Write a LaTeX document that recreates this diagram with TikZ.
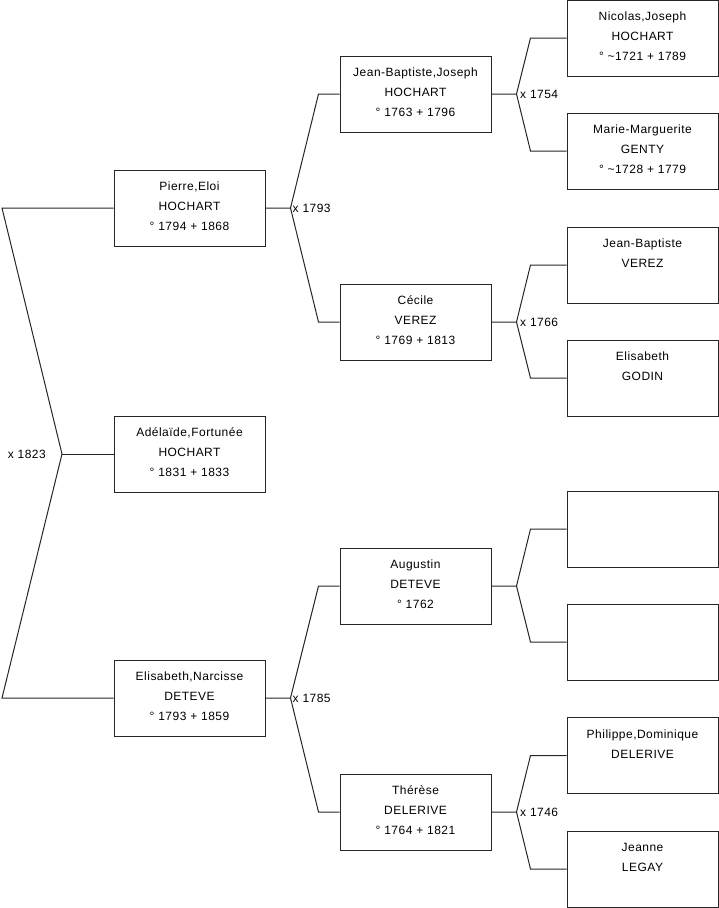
\documentclass[tikz,border=0pt]{standalone}
\usepackage{fontspec}
\setmainfont{Liberation Sans}[LetterSpace=4]
\usetikzlibrary{calc}
\newcommand{\boxtxt}[1]{\parbox[t][76pt][t]{151pt}{\centering\fontsize{12}{20}\selectfont\rule{0pt}{20.5pt}#1}}
\begin{document}
\begin{tikzpicture}[x=1pt,y=-1pt,
  person/.style={draw=black!85, line width=1pt, inner sep=0pt, minimum width=151pt, minimum height=76pt},
  link/.style={draw=black!85, line width=1pt},
  marr/.style={font=\fontsize{12}{14}\selectfont, inner sep=0pt, anchor=west}]
\useasboundingbox (0,0) rectangle (719,908);
% generation 1
\node[person] (pierre) at (189.5,208) {\boxtxt{Pierre,Eloi\\HOCHART\\° 1794 + 1868}};
\node[person] (adel) at (189.5,454) {\boxtxt{Adélaïde,Fortunée\\HOCHART\\° 1831 + 1833}};
\node[person] (elisn) at (189.5,698) {\boxtxt{Elisabeth,Narcisse\\DETEVE\\° 1793 + 1859}};
% generation 2
\node[person] (jbj) at (415.5,94) {\boxtxt{Jean-Baptiste,Joseph\\HOCHART\\° 1763 + 1796}};
\node[person] (cecile) at (415.5,322) {\boxtxt{Cécile\\VEREZ\\° 1769 + 1813}};
\node[person] (augustin) at (415.5,586) {\boxtxt{Augustin\\DETEVE\\° 1762}};
\node[person] (therese) at (415.5,812) {\boxtxt{Thérèse\\DELERIVE\\° 1764 + 1821}};
% generation 3
\node[person] (nicolas) at (642.5,38) {\boxtxt{Nicolas,Joseph\\HOCHART\\° \textasciitilde 1721 + 1789}};
\node[person] (marie) at (642.5,151) {\boxtxt{Marie-Marguerite\\GENTY\\° \textasciitilde 1728 + 1779}};
\node[person] (jbv) at (642.5,265) {\boxtxt{Jean-Baptiste\\VEREZ}};
\node[person] (godin) at (642.5,378) {\boxtxt{Elisabeth\\GODIN}};
\node[person] (e1) at (642.5,529) {\boxtxt{}};
\node[person] (e2) at (642.5,642) {\boxtxt{}};
\node[person] (phil) at (642.5,755.5) {\boxtxt{Philippe,Dominique\\DELERIVE}};
\node[person] (jeanne) at (642.5,869) {\boxtxt{Jeanne\\LEGAY}};
% left family
\coordinate (l1) at (2,208);
\coordinate (lm) at (62,454);
\coordinate (l2) at (2,698);
\draw[link] (pierre.west) -- (l1) -- (lm) -- (l2) -- (elisn.west);
\draw[link] (lm) -- (adel.west);
\node[marr, anchor=east] (m1823) at ($(lm)+(-16,0)$) {x 1823};
% generic couples
\foreach \c/\f/\m/\dx/\ex in {pierre/jbj/cecile/25/53, elisn/augustin/therese/25/53, jbj/nicolas/marie/25/39, cecile/jbv/godin/25/39, augustin/e1/e2/25/39, therese/phil/jeanne/25/39}{
  \coordinate (b-\c) at ($(\c.east)+(\dx,0)$);
  \coordinate (u-\c) at ($(\c.east)+(\ex,0)$);
  \draw[link] (\c.east) -- (b-\c) -- (u-\c |- \f.west) -- (\f.west);
  \draw[link] (b-\c) -- (u-\c |- \m.west) -- (\m.west);
}
\node[marr] (m1793) at ($(b-pierre)+(2,0)$) {x 1793};
\node[marr] (m1785) at ($(b-elisn)+(2,0)$) {x 1785};
\node[marr] (m1754) at ($(b-jbj)+(3.5,0)$) {x 1754};
\node[marr] (m1766) at ($(b-cecile)+(3.5,0)$) {x 1766};
\node[marr] (m1746) at ($(b-therese)+(3.5,0)$) {x 1746};
\end{tikzpicture}
\end{document}
